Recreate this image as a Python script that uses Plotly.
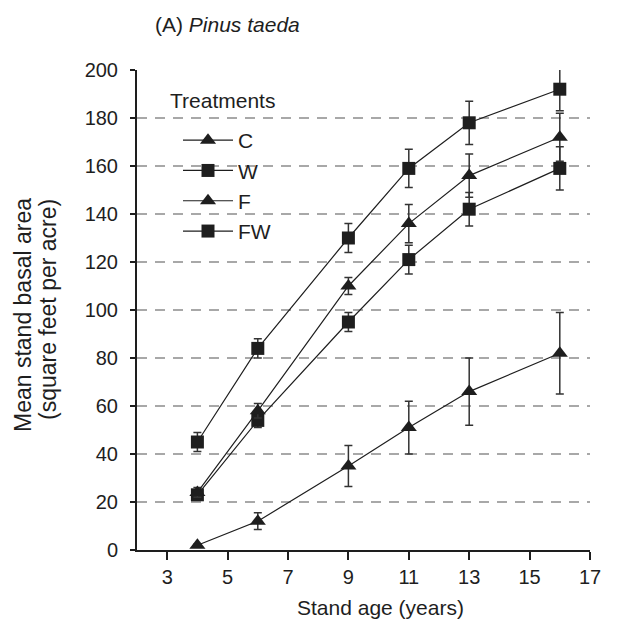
import plotly.graph_objects as go

ages = [4, 6, 9, 11, 13, 16]
treatments = ["C", "W", "F", "FW"]
c_vals = [2, 12, 35, 51, 66, 82]
c_err = [0.5, 3.5, 8.5, 11, 14, 17]
w_vals = [23, 54, 95, 121, 142, 159]
w_err = [2, 3, 4, 6, 7, 9]
f_vals = [24, 58, 110, 136, 156, 172]
f_err = [2, 3, 3.5, 8, 9, 10]
fw_vals = [45, 84, 130, 159, 178, 192]
fw_err = [4, 4, 6, 8, 9, 9]
x_ticks = [3, 5, 7, 9, 11, 13, 15, 17]
y_ticks = [0, 20, 40, 60, 80, 100, 120, 140, 160, 180, 200]

series = [
    ("C", c_vals, c_err, "triangle-up"),
    ("W", w_vals, w_err, "square"),
    ("F", f_vals, f_err, "triangle-up"),
    ("FW", fw_vals, fw_err, "square"),
]

FONT = "Liberation Sans, Arial, Helvetica, sans-serif"
INK = "#1e1e1e"

fig = go.Figure()
for name, vals, err, sym in series:
    fig.add_trace(go.Scatter(
        x=ages, y=vals, name=name, mode="lines+markers",
        line=dict(color=INK, width=1.2),
        marker=dict(symbol=sym, size=14 if sym.startswith("tri") else 13, color=INK),
        error_y=dict(type="data", array=err, visible=True, color="#333333",
                     thickness=1.5, width=4),
        cliponaxis=False,
    ))

W, H = 612, 623
L, R, T, B = 129, 30, 62, 81
PW, PH = W - L - R, H - T - B

fig.update_layout(
    width=W, height=H,
    margin=dict(l=L, r=R, t=T, b=B, autoexpand=False),
    paper_bgcolor="white", plot_bgcolor="white",
    font=dict(family=FONT, size=20, color=INK),
    title=dict(text="(A) <i>Pinus taeda</i>", x=(155 - 8) / W, xanchor="left",
               y=1 - (25 - 8) / H, yanchor="middle", xref="container", yref="container",
               font=dict(size=21, color=INK)),
    showlegend=True,
    legend=dict(
        x=(170 - L) / PW, y=((T + PH) - 112) / PH, xanchor="left", yanchor="top",
        font=dict(size=21), bgcolor="rgba(255,255,255,0)",
        itemwidth=50, tracegroupgap=0,
    ),
)

fig.update_xaxes(
    range=[2, 17], tickmode="array", tickvals=x_ticks,
    ticks="outside", ticklen=8, tickwidth=2, tickcolor=INK,
    showline=True, linecolor=INK, linewidth=2,
    showgrid=False, zeroline=False, automargin=False,
    tickfont=dict(size=20),
)
fig.update_yaxes(
    range=[0, 200], tickmode="array", tickvals=y_ticks,
    ticks="outside", ticklen=5, tickwidth=2, tickcolor=INK,
    showline=True, linecolor=INK, linewidth=2,
    showgrid=True, gridcolor="#a8a8a8", gridwidth=1.5, griddash="10px,8px",
    zeroline=False, automargin=False, ticklabelstandoff=8,
    tickfont=dict(size=20),
)

fig.add_annotation(
    text="Treatments", xref="paper", yref="paper",
    x=(160 - L) / PW, y=((T + PH) - 92) / PH, xanchor="left", yanchor="middle",
    showarrow=False, font=dict(size=21, color=INK),
)
fig.add_annotation(
    text="Stand age (years)", xref="paper", yref="paper",
    x=(372 - L) / PW, y=-(599 - (T + PH)) / PH, xanchor="center", yanchor="middle",
    showarrow=False, font=dict(size=21, color=INK),
)
for txt, px, py in [("Mean stand basal area", 15, 307), ("(square feet per acre)", 40, 302)]:
    fig.add_annotation(
        text=txt, xref="paper", yref="paper", textangle=-90,
        x=(px - L) / PW, y=((T + PH) - py) / PH, xanchor="center", yanchor="middle",
        showarrow=False, font=dict(size=23, color=INK),
    )

fig.write_html("out.html")
